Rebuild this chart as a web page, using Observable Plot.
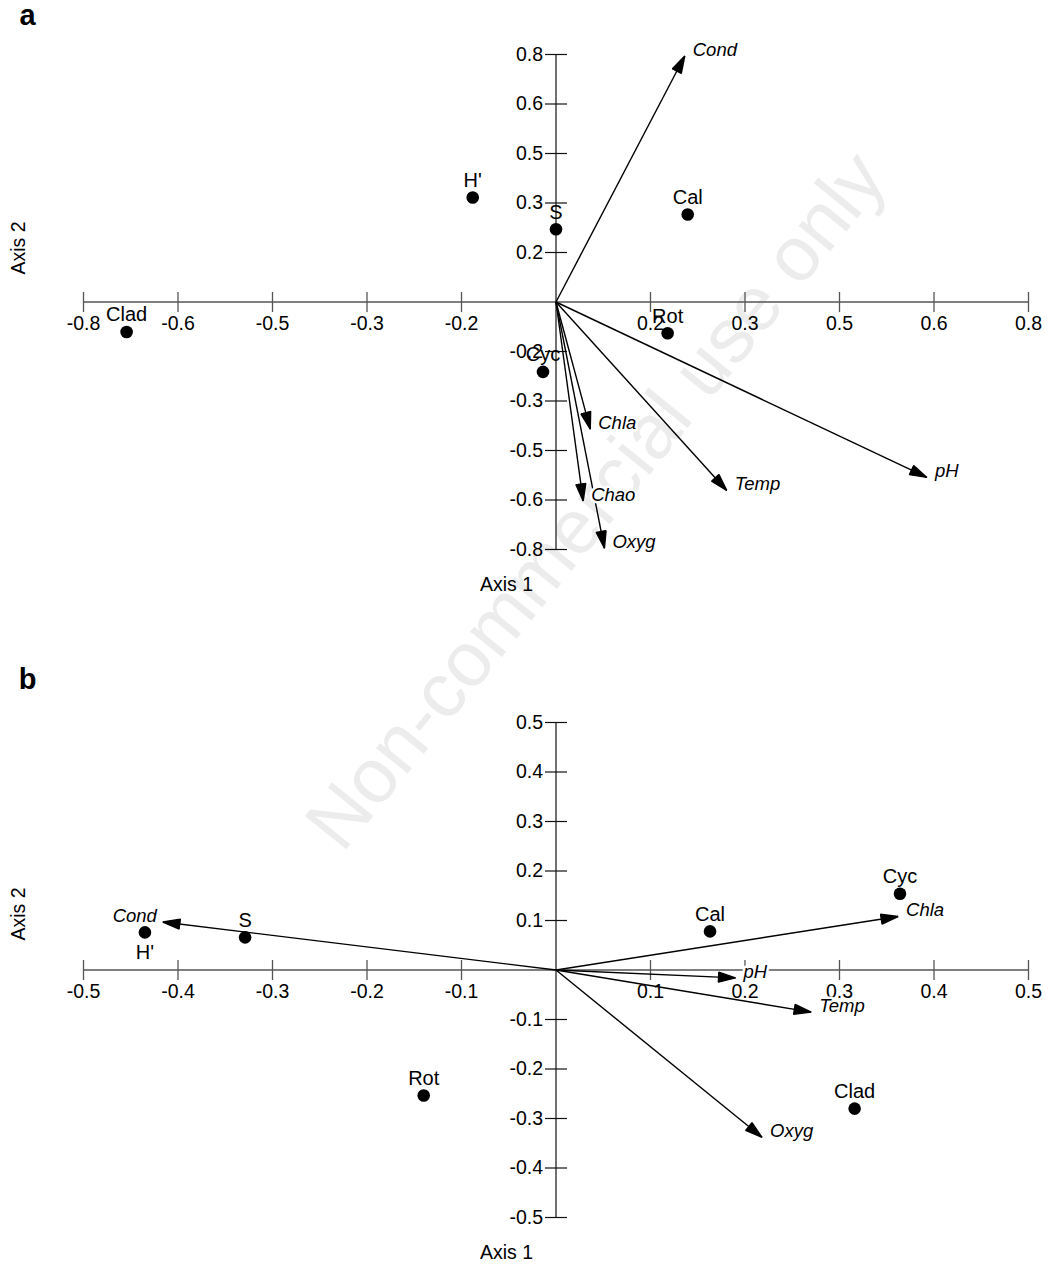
<!DOCTYPE html>
<html><head><meta charset="utf-8">
<script src="https://cdn.jsdelivr.net/npm/d3@7"></script>
<script src="https://cdn.jsdelivr.net/npm/@observablehq/plot@0.6"></script>
<style>
body{margin:0;background:#fff;}
#page{position:relative;width:1051px;height:1269px;overflow:hidden;font-family:"Liberation Sans",Arial,sans-serif;}
#wm{position:absolute;left:595px;top:500px;transform:translate(-50%,-50%) rotate(-51deg);font-size:77px;color:#ececec;white-space:nowrap;z-index:0;}
.panel{position:absolute;left:0;z-index:1;}
</style></head><body>
<div id="page">
<div id="wm">Non-commercial use only</div>
<div id="pa" class="panel" style="top:0"></div>
<div id="pb" class="panel" style="top:610px"></div>
</div>
<script>
// ---------- Panel a data ----------
const speciesA = ["Clad", "H'", "S", "Cal", "Rot", "Cyc"];
const speciesAx1 = [-0.727, -0.141, 0.0, 0.223, 0.189, -0.022];
const speciesAx2 = [-0.097, 0.338, 0.235, 0.283, -0.101, -0.226];
const envA = ["Cond", "pH", "Temp", "Chla", "Chao", "Oxyg"];
const envAx1 = [0.218, 0.628, 0.289, 0.058, 0.046, 0.082];
const envAx2 = [0.795, -0.567, -0.609, -0.411, -0.643, -0.796];
const tickValuesA = [-0.8, -0.64, -0.48, -0.32, -0.16, 0.16, 0.32, 0.48, 0.64, 0.8];
const tickLabelsA = ["-0.8", "-0.6", "-0.5", "-0.3", "-0.2", "0.2", "0.3", "0.5", "0.6", "0.8"];

// ---------- Panel b data ----------
const speciesB = ["H'", "S", "Cal", "Cyc", "Rot", "Clad"];
const speciesBx1 = [-0.435, -0.329, 0.163, 0.364, -0.140, 0.316];
const speciesBx2 = [0.076, 0.066, 0.078, 0.154, -0.2535, -0.280];
const envB = ["Cond", "Chla", "pH", "Temp", "Oxyg"];
const envBx1 = [-0.416, 0.362, 0.190, 0.270, 0.218];
const envBx2 = [0.097, 0.108, -0.016, -0.085, -0.338];
const tickValuesB = [-0.5, -0.4, -0.3, -0.2, -0.1, 0.1, 0.2, 0.3, 0.4, 0.5];
const tickLabelsB = ["-0.5", "-0.4", "-0.3", "-0.2", "-0.1", "0.1", "0.2", "0.3", "0.4", "0.5"];

const belowLabelsB = ["H'"];
const leftLabelsB = ["Cond"];

const NS = "http://www.w3.org/2000/svg";
function filledHead(color) {
  const m = document.createElementNS(NS, "marker");
  m.setAttribute("viewBox", "-18 -6 20 12");
  m.setAttribute("markerWidth", 20);
  m.setAttribute("markerHeight", 12);
  m.setAttribute("markerUnits", "userSpaceOnUse");
  m.setAttribute("orient", "auto");
  m.setAttribute("refX", 0);
  m.setAttribute("refY", 0);
  const p = document.createElementNS(NS, "path");
  p.setAttribute("d", "M0,0L-17,-5L-17,5Z");
  p.setAttribute("fill", color);
  m.appendChild(p);
  return m;
}
const vTick = {draw(ctx) { ctx.moveTo(0, -10); ctx.lineTo(0, 10); }};
const hTick = {draw(ctx) { ctx.moveTo(-11, 0); ctx.lineTo(11, 0); }};

function panel({letter, names, px, py, env, ex, ey, tv, tl, lim, height, mt, mb, below = [], left = [],
                letterDy, titleYDy}) {
  const pts = names.map((n, i) => ({name: n, x: px[i], y: py[i]}));
  const arrows = env.map((n, i) => ({name: n, x: ex[i], y: ey[i]}));
  const ticks = tv.map((v, i) => ({v, label: tl[i]}));
  const envStyle = {fontStyle: "italic", fontSize: 18.5, fill: "black", stroke: "white", strokeWidth: 5,
                    paintOrder: "stroke", strokeLinejoin: "round"};
  return Plot.plot({
    width: 1051, height,
    marginLeft: 83, marginRight: 23, marginTop: mt, marginBottom: mb,
    x: {domain: [-lim, lim], axis: null},
    y: {domain: [-lim, lim], axis: null},
    style: {background: "transparent", overflow: "visible", fontFamily: "'Liberation Sans', Arial, sans-serif", color: "black"},
    marks: [
      Plot.ruleY([0], {x1: -lim, x2: lim, stroke: "#555", strokeWidth: 1.5}),
      Plot.ruleX([0], {y1: -lim, y2: lim, stroke: "#111", strokeWidth: 1.2}),
      Plot.dot(ticks, {x: d => d.v, y: 0, symbol: vTick, fill: "none", stroke: "#555", strokeWidth: 1.3}),
      Plot.dot(ticks, {x: 0, y: d => d.v, symbol: hTick, fill: "none", stroke: "#111", strokeWidth: 1.2}),
      Plot.text(ticks, {x: d => d.v, y: 0, text: d => d.label, dy: 22, fontSize: 19.5}),
      Plot.text(ticks, {x: 0, y: d => d.v, text: d => d.label, textAnchor: "end", dx: -13, fontSize: 19.5}),
      Plot.link(arrows, {x1: 0, y1: 0, x2: "x", y2: "y", stroke: "black", strokeWidth: 1.4, markerEnd: filledHead}),
      Plot.dot(pts, {x: "x", y: "y", r: 6.3, fill: "black"}),
      Plot.text(pts.filter(d => !below.includes(d.name)), {x: "x", y: "y", text: "name", dy: -17, fontSize: 20}),
      Plot.text(pts.filter(d => below.includes(d.name)), {x: "x", y: "y", text: "name", dy: 20, fontSize: 20}),
      Plot.text(arrows.filter(d => !left.includes(d.name)), {x: "x", y: "y", text: "name", textAnchor: "start", dx: 8, dy: -6, ...envStyle}),
      Plot.text(arrows.filter(d => left.includes(d.name)), {x: "x", y: "y", text: "name", textAnchor: "end", dx: -6, dy: -6, ...envStyle}),
      Plot.text([letter], {frameAnchor: "top-left", text: d => d, textAnchor: "middle", lineAnchor: "bottom",
                           dx: -56, dy: letterDy, fontSize: 29, fontWeight: "bold"}),
      Plot.text(["Axis 2"], {frameAnchor: "left", text: d => d, rotate: -90, dx: -65, dy: titleYDy, fontSize: 19.5}),
      Plot.text(["Axis 1"], {frameAnchor: "bottom", text: d => d, dx: -49.5, dy: 41, fontSize: 19.5})
    ]
  });
}

document.getElementById("pa").appendChild(panel({
  letter: "a", names: speciesA, px: speciesAx1, py: speciesAx2,
  env: envA, ex: envAx1, ey: envAx2, tv: tickValuesA, tl: tickLabelsA,
  lim: 0.8, height: 610, mt: 54, mb: 61, letterDy: -30, titleYDy: -27.5
}));
document.getElementById("pb").appendChild(panel({
  letter: "b", names: speciesB, px: speciesBx1, py: speciesBx2,
  env: envB, ex: envBx1, ey: envBx2, tv: tickValuesB, tl: tickLabelsB,
  lim: 0.5, height: 659, mt: 112, mb: 52, below: belowLabelsB, left: leftLabelsB,
  letterDy: -34, titleYDy: -29.5
}));
</script>
</body></html>
